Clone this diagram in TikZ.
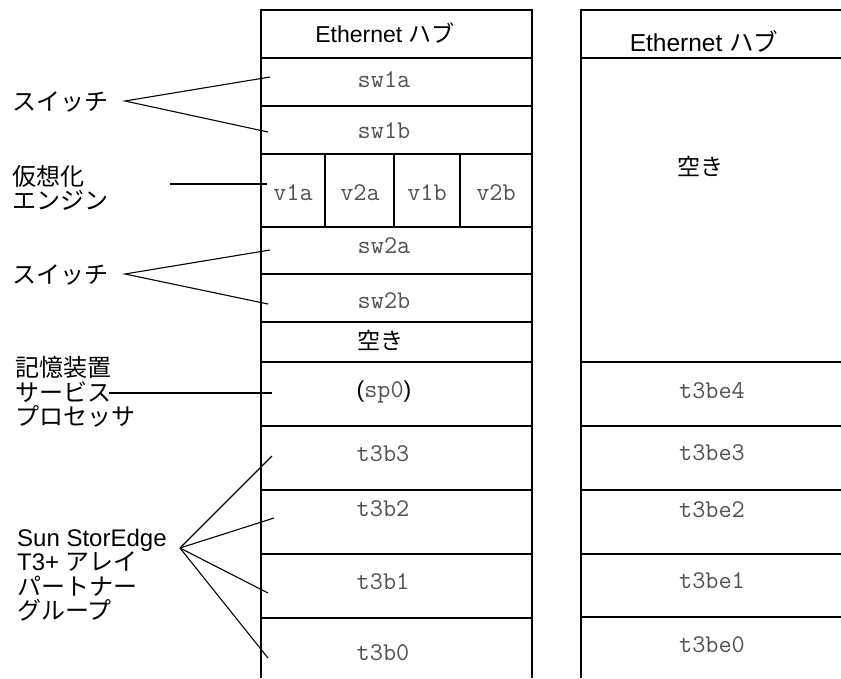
\documentclass[tikz,border=0pt]{standalone}
\usepackage{fontspec}
\setmainfont{Liberation Sans}
\newfontfamily\jp{Noto Sans CJK JP}
\tikzset{
  rahmen/.style={line width=2.8pt},
  zeiger/.style={line width=1.1pt},
  zeigerdick/.style={line width=2.2pt},
  einschub/.style={font=\fontsize{25.5}{27}\selectfont\ttfamily, text=black!68},
  beschriftung/.style={anchor=west, align=left, inner sep=0pt, font=\fontsize{24}{24.5}\selectfont}
}
\begin{document}
\begin{tikzpicture}[x=1pt, y=-1pt, font=\fontsize{23}{25}\selectfont]
  \useasboundingbox (0,0) rectangle (841,678);
  % linke Spalte
  \draw [rahmen] (261,678) -- (261,10) -- (532,10) -- (532,678);
  \foreach \y in {58,106,154,227,274,322,362,426,490,554,618}
    \draw [rahmen] (261,\y) -- (532,\y);
  \foreach \x in {325,394,460}
    \draw [rahmen] (\x,154) -- (\x,227);
  % rechte Spalte
  \draw [rahmen] (581,678) -- (581,10) -- (842,10);
  \foreach \y in {58,362,426,490,554,617}
    \draw [rahmen] (581,\y) -- (842,\y);
  % Einschuebe links
  \node (hubL)  at (385,33)  {Ethernet {\jp ハブ}};
  \node [einschub] (sw1a) at (384,80)  {sw1a};
  \node [einschub] (sw1b) at (384,131) {sw1b};
  \node [einschub] (v1a)  at (293,193) {v1a};
  \node [einschub] (v2a)  at (360,193) {v2a};
  \node [einschub] (v1b)  at (427,193) {v1b};
  \node [einschub] (v2b)  at (496,193) {v2b};
  \node [einschub] (sw2a) at (384,246) {sw2a};
  \node [einschub] (sw2b) at (384,301) {sw2b};
  \node (leerL) at (380,340) {\jp 空き};
  \node (sp0)   at (384,392) {(\textcolor{black!68}{\ttfamily\fontsize{25.5}{27}\selectfont sp0})};
  \node [einschub] (t3b3) at (383,454) {t3b3};
  \node [einschub] (t3b2) at (383,509) {t3b2};
  \node [einschub] (t3b1) at (383,582) {t3b1};
  \node [einschub] (t3b0) at (383,653) {t3b0};
  % Einschuebe rechts
  \node (hubR)  at (704,41)  {\fontsize{24.5}{26}\selectfont Ethernet {\jp ハブ}};
  \node (leerR) at (700,166) {\jp 空き};
  \node [einschub] (t3be4) at (712,391) {t3be4};
  \node [einschub] (t3be3) at (712,453) {t3be3};
  \node [einschub] (t3be2) at (712,510) {t3be2};
  \node [einschub] (t3be1) at (712,581) {t3be1};
  \node [einschub] (t3be0) at (712,645) {t3be0};
  % Beschriftungen
  \node [beschriftung] (schalter1) at (12,102) {\jp スイッチ};
  \node [beschriftung] (engine)    at (12,188) {\jp 仮想化\\\jp エンジン};
  \node [beschriftung] (schalter2) at (12,275) {\jp スイッチ};
  \node [beschriftung] (sp)        at (15,392) {\jp 記憶装置\\\jp サービス\\\jp プロセッサ};
  \node [beschriftung] (array)     at (17,575) {Sun StorEdge\\T3+ {\jp アレイ}\\{\jp パートナー}\\{\jp グループ}};
  % Zeiger
  \coordinate (f1) at (125,101);
  \coordinate (f2) at (125,274);
  \coordinate (f3) at (180,548);
  \coordinate (fv) at (170,184);
  \coordinate (fsp) at (109,393);
  \coordinate (p1a) at (270,77);
  \coordinate (p1b) at (268,132);
  \coordinate (p2a) at (270,250);
  \coordinate (p2b) at (268,304);
  \coordinate (pv)  at (267,184);
  \coordinate (psp) at (272,393);
  \coordinate (p3) at (272,456);
  \coordinate (p2) at (274,518);
  \coordinate (p1) at (268,593);
  \coordinate (p0) at (268,658);
  \draw [zeiger] (p1a) -- (f1) -- (p1b);
  \draw [zeiger] (p2a) -- (f2) -- (p2b);
  \draw [zeigerdick] (fv) -- (pv);
  \draw [zeigerdick] (fsp) -- (psp);
  \foreach \p in {p3,p2,p1,p0}
    \draw [zeiger] (f3) -- (\p);
\end{tikzpicture}
\end{document}
